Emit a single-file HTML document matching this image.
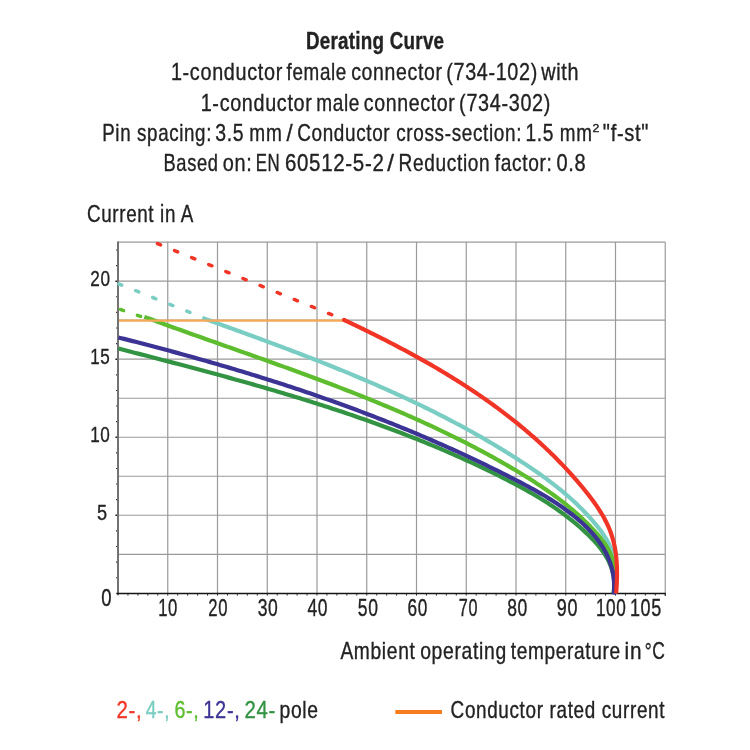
<!DOCTYPE html>
<html><head><meta charset="utf-8"><style>
html,body{margin:0;padding:0;background:#fff;}
svg{display:block;will-change:transform;filter:blur(0.3px)}
text{font-family:"Liberation Sans",sans-serif;stroke-width:0.35px;}
</style></head><body>
<svg width="750" height="750" viewBox="0 0 750 750">
<rect width="750" height="750" fill="#fff"/>
<path d="M167.75,242.19V593.30M217.50,242.19V593.30M267.25,242.19V593.30M317.00,242.19V593.30M366.75,242.19V593.30M416.50,242.19V593.30M466.25,242.19V593.30M516.00,242.19V593.30M565.75,242.19V593.30M615.50,242.19V593.30M665.25,242.19V593.30M118.00,554.29H665.25M118.00,515.27H665.25M118.00,476.26H665.25M118.00,437.25H665.25M118.00,398.24H665.25M118.00,359.22H665.25M118.00,320.21H665.25M118.00,281.20H665.25M118.00,242.19H665.25" stroke="#9a9a9a" stroke-width="1.2" fill="none"/>
<path d="M116.00,577.69H118.00M116.00,562.09H118.00M116.00,546.48H118.00M116.00,530.88H118.00M116.00,499.67H118.00M116.00,484.06H118.00M116.00,468.46H118.00M116.00,452.85H118.00M116.00,421.64H118.00M116.00,406.04H118.00M116.00,390.43H118.00M116.00,374.83H118.00M116.00,343.62H118.00M116.00,328.01H118.00M116.00,312.41H118.00M116.00,296.80H118.00M116.00,265.59H118.00M116.00,249.99H118.00" stroke="#333" stroke-width="1.1" fill="none"/>
<path d="M115.40,515.27H119.00M115.40,437.25H119.00M115.40,359.22H119.00M115.40,281.20H119.00" stroke="#222" stroke-width="1.4" fill="none"/>
<path d="M127.95,593.30V595.60M137.90,593.30V595.60M147.85,593.30V595.60M157.80,593.30V595.60M167.75,593.30V595.60M177.70,593.30V595.60M187.65,593.30V595.60M197.60,593.30V595.60M207.55,593.30V595.60M217.50,593.30V595.60M227.45,593.30V595.60M237.40,593.30V595.60M247.35,593.30V595.60M257.30,593.30V595.60M267.25,593.30V595.60M277.20,593.30V595.60M287.15,593.30V595.60M297.10,593.30V595.60M307.05,593.30V595.60M317.00,593.30V595.60M326.95,593.30V595.60M336.90,593.30V595.60M346.85,593.30V595.60M356.80,593.30V595.60M366.75,593.30V595.60M376.70,593.30V595.60M386.65,593.30V595.60M396.60,593.30V595.60M406.55,593.30V595.60M416.50,593.30V595.60M426.45,593.30V595.60M436.40,593.30V595.60M446.35,593.30V595.60M456.30,593.30V595.60M466.25,593.30V595.60M476.20,593.30V595.60M486.15,593.30V595.60M496.10,593.30V595.60M506.05,593.30V595.60M516.00,593.30V595.60M525.95,593.30V595.60M535.90,593.30V595.60M545.85,593.30V595.60M555.80,593.30V595.60M565.75,593.30V595.60M575.70,593.30V595.60M585.65,593.30V595.60M595.60,593.30V595.60M605.55,593.30V595.60M615.50,593.30V595.60M625.45,593.30V595.60M635.40,593.30V595.60M645.35,593.30V595.60M655.30,593.30V595.60M665.25,593.30V595.60" stroke="#333" stroke-width="1.0" fill="none"/>
<path d="M118.00,241.59V595.30" stroke="#727272" stroke-width="2.0" fill="none"/>
<path d="M116.30,593.50H665.85" stroke="#151515" stroke-width="1.3" fill="none"/>
<path d="M665.25,593.30V595.90" stroke="#333" stroke-width="1.1" fill="none"/>
<path d="M157.43,243.56L160.57,244.84M174.54,250.55L177.68,251.83M191.65,257.54L194.79,258.82M208.76,264.53L211.90,265.81M225.87,271.51L229.01,272.80M242.98,278.50L246.12,279.79M260.09,285.49L263.23,286.78M277.20,292.48L280.34,293.77M294.31,299.47L297.45,300.76M311.42,306.46L314.56,307.75M328.53,313.45L331.67,314.74" stroke="#f03526" stroke-width="3.5" stroke-linecap="round" fill="none"/>
<path d="M186.82,311.07L189.98,312.33M169.77,304.29L172.93,305.54M152.72,297.50L155.88,298.76M135.67,290.71L138.83,291.97M119.00,284.08L121.78,285.19" stroke="#7acdc2" stroke-width="3.5" stroke-linecap="round" fill="none"/>
<path d="M120.39,309.44L123.61,310.56M137.39,315.34L140.61,316.46" stroke="#5dbd2e" stroke-width="3.5" stroke-linecap="round" fill="none"/>
<path d="M202.23,317.87 L204.71,318.77 L207.19,319.66 L209.68,320.55 L212.16,321.45 L214.64,322.34 L217.12,323.23 L219.60,324.13 L222.08,325.02 L224.56,325.92 L227.04,326.82 L229.52,327.71 L232.00,328.61 L234.48,329.51 L236.95,330.41 L239.43,331.31 L241.91,332.21 L244.38,333.11 L246.85,334.01 L249.33,334.92 L251.80,335.82 L254.27,336.73 L256.74,337.63 L259.21,338.54 L261.68,339.45 L264.15,340.37 L266.62,341.28 L269.09,342.19 L271.55,343.11 L274.02,344.03 L276.48,344.95 L278.94,345.87 L281.40,346.79 L283.86,347.72 L286.32,348.65 L288.78,349.58 L291.24,350.51 L293.69,351.44 L296.15,352.38 L298.60,353.32 L301.05,354.26 L303.50,355.20 L305.95,356.15 L308.40,357.10 L310.85,358.05 L313.29,359.00 L315.74,359.96 L318.18,360.92 L320.62,361.88 L323.06,362.85 L325.49,363.81 L327.93,364.78 L330.36,365.76 L332.80,366.74 L335.23,367.72 L337.66,368.70 L340.09,369.69 L342.51,370.68 L344.94,371.68 L347.36,372.67 L349.78,373.68 L352.20,374.68 L354.62,375.69 L357.03,376.70 L359.44,377.72 L361.86,378.74 L364.27,379.76 L366.67,380.79 L369.08,381.83 L371.48,382.86 L373.88,383.90 L376.28,384.95 L378.68,386.00 L381.07,387.05 L383.47,388.11 L385.86,389.18 L388.25,390.24 L390.63,391.32 L393.02,392.39 L395.40,393.48 L397.78,394.56 L400.16,395.65 L402.53,396.75 L404.90,397.85 L407.27,398.96 L409.64,400.07 L412.01,401.19 L414.37,402.31 L416.73,403.44 L419.09,404.57 L421.44,405.71 L423.80,406.86 L426.15,408.01 L428.49,409.16 L430.84,410.32 L433.18,411.49 L435.52,412.66 L437.86,413.84 L440.19,415.02 L442.52,416.21 L444.85,417.41 L447.17,418.61 L449.50,419.82 L451.82,421.04 L454.13,422.26 L456.45,423.49 L458.76,424.72 L461.07,425.96 L463.37,427.21 L465.67,428.46 L467.97,429.72 L470.27,430.99 L472.56,432.27 L474.85,433.55 L477.14,434.84 L479.42,436.13 L481.70,437.43 L483.98,438.74 L486.25,440.06 L488.52,441.38 L490.79,442.71 L493.05,444.05 L495.31,445.40 L497.57,446.75 L499.82,448.11 L502.07,449.48 L504.32,450.85 L506.56,452.24 L508.80,453.63 L511.03,455.03 L513.27,456.44 L515.50,457.85 L517.72,459.27 L519.94,460.71 L522.16,462.15 L524.37,463.59 L526.57,465.05 L528.77,466.52 L530.97,468.00 L533.15,469.49 L535.33,470.99 L537.50,472.50 L539.66,474.03 L541.81,475.56 L543.95,477.11 L546.08,478.67 L548.20,480.24 L550.31,481.83 L552.41,483.43 L554.49,485.04 L556.56,486.67 L558.62,488.32 L560.66,489.98 L562.69,491.65 L564.71,493.34 L566.71,495.05 L568.69,496.77 L570.65,498.51 L572.60,500.27 L574.53,502.05 L576.44,503.84 L578.34,505.66 L580.21,507.49 L582.07,509.34 L583.90,511.21 L585.71,513.10 L587.50,515.01 L589.27,516.94 L591.02,518.89 L592.75,520.87 L594.45,522.86 L596.12,524.88 L597.77,526.92 L599.38,528.99 L600.96,531.08 L602.48,533.20 L603.94,535.36 L605.34,537.54 L606.67,539.76 L607.92,542.01 L609.08,544.31 L610.15,546.64 L611.12,549.01 L611.98,551.43 L612.72,553.89 L613.36,556.40 L613.91,558.93 L614.35,561.50 L614.71,564.10 L614.99,566.73 L615.19,569.37 L615.32,572.03 L615.39,574.70 L615.41,577.38 L615.37,580.07 L615.29,582.75 L615.17,585.44 L615.03,588.11 L614.86,590.77 L614.67,593.42" stroke="#7acdc2" stroke-width="4.2" fill="none" stroke-linejoin="round" stroke-linecap="butt"/>
<path d="M144.33,316.85 L147.01,317.85 L149.69,318.84 L152.37,319.83 L155.06,320.81 L157.74,321.80 L160.43,322.78 L163.12,323.76 L165.81,324.74 L168.50,325.71 L171.19,326.68 L173.89,327.66 L176.58,328.63 L179.28,329.60 L181.97,330.56 L184.67,331.53 L187.37,332.50 L190.07,333.46 L192.77,334.42 L195.47,335.38 L198.17,336.35 L200.88,337.31 L203.58,338.26 L206.28,339.22 L208.99,340.18 L211.69,341.14 L214.40,342.10 L217.11,343.05 L219.81,344.01 L222.52,344.96 L225.23,345.92 L227.93,346.88 L230.64,347.83 L233.35,348.79 L236.06,349.75 L238.76,350.70 L241.47,351.66 L244.18,352.62 L246.89,353.58 L249.60,354.53 L252.30,355.49 L255.01,356.45 L257.72,357.42 L260.43,358.38 L263.13,359.34 L265.84,360.31 L268.55,361.27 L271.25,362.24 L273.96,363.21 L276.66,364.18 L279.36,365.15 L282.07,366.12 L284.77,367.10 L287.47,368.08 L290.17,369.06 L292.87,370.04 L295.57,371.02 L298.27,372.01 L300.97,372.99 L303.67,373.98 L306.36,374.98 L309.06,375.97 L311.75,376.97 L314.44,377.97 L317.14,378.97 L319.83,379.98 L322.51,380.99 L325.20,382.00 L327.89,383.01 L330.57,384.03 L333.26,385.05 L335.94,386.08 L338.62,387.11 L341.30,388.14 L343.97,389.18 L346.65,390.21 L349.32,391.26 L351.99,392.30 L354.66,393.36 L357.33,394.41 L360.00,395.47 L362.66,396.53 L365.32,397.60 L367.98,398.67 L370.64,399.75 L373.29,400.83 L375.95,401.92 L378.60,403.01 L381.25,404.10 L383.90,405.20 L386.54,406.31 L389.18,407.42 L391.82,408.53 L394.46,409.65 L397.09,410.78 L399.72,411.91 L402.35,413.05 L404.98,414.19 L407.60,415.34 L410.23,416.49 L412.84,417.65 L415.46,418.81 L418.07,419.99 L420.68,421.16 L423.29,422.35 L425.89,423.54 L428.49,424.73 L431.09,425.94 L433.68,427.15 L436.27,428.36 L438.86,429.58 L441.45,430.81 L444.03,432.05 L446.61,433.29 L449.18,434.54 L451.75,435.80 L454.32,437.06 L456.88,438.33 L459.44,439.61 L462.00,440.90 L464.55,442.19 L467.10,443.49 L469.65,444.80 L472.19,446.12 L474.73,447.45 L477.26,448.78 L479.79,450.12 L482.31,451.47 L484.84,452.82 L487.35,454.19 L489.87,455.56 L492.38,456.95 L494.88,458.34 L497.38,459.73 L499.88,461.14 L502.37,462.56 L504.86,463.98 L507.34,465.42 L509.82,466.86 L512.29,468.32 L514.76,469.78 L517.23,471.25 L519.69,472.73 L522.14,474.22 L524.59,475.72 L527.03,477.24 L529.46,478.76 L531.89,480.30 L534.31,481.85 L536.71,483.41 L539.11,484.99 L541.50,486.58 L543.87,488.19 L546.23,489.81 L548.58,491.45 L550.92,493.10 L553.25,494.77 L555.56,496.46 L557.85,498.17 L560.13,499.90 L562.39,501.64 L564.64,503.41 L566.87,505.19 L569.08,507.00 L571.27,508.83 L573.44,510.68 L575.59,512.55 L577.73,514.44 L579.84,516.36 L581.93,518.30 L583.99,520.26 L586.04,522.26 L588.06,524.27 L590.06,526.31 L592.03,528.38 L593.97,530.48 L595.89,532.60 L597.78,534.75 L599.63,536.94 L601.42,539.16 L603.15,541.42 L604.79,543.73 L606.33,546.09 L607.77,548.50 L609.09,550.97 L610.27,553.50 L611.31,556.10 L612.19,558.77 L612.89,561.51 L613.41,564.32 L613.78,567.20 L614.01,570.12 L614.14,573.08 L614.20,576.05 L614.20,579.01 L614.18,581.96 L614.15,584.88 L614.16,587.74 L614.23,590.55 L614.37,593.27" stroke="#5dbd2e" stroke-width="4.2" fill="none" stroke-linejoin="round" stroke-linecap="butt"/>
<path d="M118.53,348.61 L121.33,349.33 L124.14,350.05 L126.94,350.77 L129.74,351.49 L132.54,352.21 L135.34,352.93 L138.15,353.65 L140.95,354.37 L143.75,355.09 L146.56,355.82 L149.36,356.54 L152.16,357.27 L154.97,357.99 L157.77,358.72 L160.57,359.45 L163.38,360.17 L166.18,360.90 L168.98,361.64 L171.79,362.37 L174.59,363.10 L177.39,363.84 L180.19,364.57 L182.99,365.31 L185.80,366.05 L188.60,366.79 L191.40,367.53 L194.20,368.28 L197.00,369.02 L199.80,369.77 L202.60,370.52 L205.40,371.27 L208.20,372.02 L211.00,372.78 L213.79,373.54 L216.59,374.29 L219.39,375.06 L222.18,375.82 L224.98,376.59 L227.77,377.35 L230.57,378.13 L233.36,378.90 L236.15,379.68 L238.94,380.45 L241.73,381.24 L244.52,382.02 L247.31,382.81 L250.10,383.60 L252.89,384.39 L255.68,385.18 L258.46,385.98 L261.25,386.78 L264.03,387.59 L266.81,388.39 L269.59,389.21 L272.37,390.02 L275.15,390.84 L277.93,391.66 L280.71,392.48 L283.48,393.31 L286.26,394.14 L289.03,394.98 L291.80,395.82 L294.57,396.66 L297.34,397.50 L300.11,398.35 L302.88,399.21 L305.64,400.07 L308.40,400.93 L311.17,401.79 L313.93,402.66 L316.69,403.54 L319.44,404.42 L322.20,405.30 L324.95,406.19 L327.71,407.08 L330.46,407.98 L333.21,408.88 L335.96,409.78 L338.70,410.69 L341.45,411.61 L344.19,412.53 L346.93,413.45 L349.67,414.38 L352.40,415.32 L355.14,416.25 L357.87,417.20 L360.60,418.15 L363.33,419.10 L366.06,420.06 L368.79,421.03 L371.51,422.00 L374.23,422.97 L376.95,423.96 L379.67,424.94 L382.38,425.94 L385.09,426.93 L387.81,427.94 L390.51,428.95 L393.22,429.96 L395.92,430.98 L398.62,432.01 L401.32,433.04 L404.02,434.08 L406.71,435.13 L409.41,436.18 L412.10,437.24 L414.78,438.30 L417.47,439.37 L420.15,440.45 L422.83,441.53 L425.51,442.62 L428.18,443.72 L430.85,444.82 L433.52,445.93 L436.19,447.04 L438.85,448.17 L441.51,449.30 L444.17,450.43 L446.82,451.58 L449.48,452.73 L452.13,453.88 L454.77,455.05 L457.42,456.22 L460.06,457.40 L462.70,458.59 L465.33,459.78 L467.96,460.98 L470.59,462.19 L473.22,463.40 L475.84,464.63 L478.46,465.86 L481.08,467.10 L483.69,468.35 L486.30,469.60 L488.91,470.86 L491.51,472.13 L494.11,473.41 L496.71,474.70 L499.31,475.99 L501.90,477.30 L504.48,478.61 L507.07,479.93 L509.64,481.26 L512.22,482.60 L514.78,483.95 L517.34,485.31 L519.89,486.69 L522.44,488.08 L524.98,489.48 L527.50,490.90 L530.02,492.33 L532.53,493.78 L535.03,495.25 L537.51,496.73 L539.99,498.23 L542.45,499.74 L544.90,501.28 L547.33,502.83 L549.75,504.41 L552.16,506.00 L554.55,507.62 L556.93,509.26 L559.29,510.92 L561.63,512.60 L563.96,514.31 L566.26,516.05 L568.55,517.80 L570.82,519.59 L573.07,521.40 L575.30,523.23 L577.51,525.10 L579.69,526.99 L581.86,528.91 L584.00,530.87 L586.12,532.85 L588.21,534.86 L590.28,536.91 L592.31,538.98 L594.31,541.10 L596.25,543.25 L598.13,545.44 L599.95,547.67 L601.70,549.95 L603.36,552.27 L604.94,554.64 L606.42,557.06 L607.79,559.53 L609.05,562.05 L610.19,564.63 L611.20,567.27 L612.08,569.96 L612.81,572.71 L613.40,575.51 L613.84,578.38 L614.11,581.30 L614.21,584.28 L614.14,587.32 L613.89,590.41 L613.45,593.57" stroke="#329342" stroke-width="4.2" fill="none" stroke-linejoin="round" stroke-linecap="butt"/>
<path d="M118.38,337.46 L121.24,338.19 L124.09,338.91 L126.95,339.64 L129.80,340.36 L132.65,341.10 L135.51,341.83 L138.36,342.57 L141.21,343.30 L144.06,344.05 L146.90,344.79 L149.75,345.54 L152.60,346.29 L155.44,347.04 L158.28,347.79 L161.13,348.55 L163.97,349.31 L166.81,350.07 L169.65,350.84 L172.49,351.61 L175.32,352.38 L178.16,353.15 L180.99,353.93 L183.83,354.71 L186.66,355.49 L189.49,356.28 L192.32,357.07 L195.15,357.86 L197.98,358.66 L200.80,359.45 L203.63,360.26 L206.45,361.06 L209.28,361.87 L212.10,362.68 L214.92,363.50 L217.74,364.31 L220.55,365.14 L223.37,365.96 L226.19,366.79 L229.00,367.62 L231.81,368.46 L234.62,369.29 L237.43,370.14 L240.24,370.98 L243.05,371.83 L245.85,372.68 L248.66,373.54 L251.46,374.40 L254.26,375.26 L257.06,376.13 L259.86,377.00 L262.66,377.88 L265.45,378.76 L268.25,379.64 L271.04,380.53 L273.83,381.42 L276.62,382.31 L279.41,383.21 L282.20,384.11 L284.98,385.02 L287.77,385.93 L290.55,386.84 L293.33,387.76 L296.11,388.69 L298.89,389.61 L301.67,390.54 L304.44,391.48 L307.21,392.42 L309.98,393.36 L312.75,394.31 L315.52,395.26 L318.29,396.22 L321.05,397.18 L323.82,398.15 L326.58,399.12 L329.34,400.09 L332.10,401.07 L334.86,402.05 L337.61,403.04 L340.36,404.03 L343.12,405.03 L345.87,406.03 L348.61,407.04 L351.36,408.05 L354.10,409.07 L356.85,410.09 L359.59,411.11 L362.33,412.14 L365.07,413.18 L367.80,414.22 L370.54,415.26 L373.27,416.31 L376.00,417.37 L378.73,418.43 L381.45,419.49 L384.18,420.56 L386.90,421.64 L389.62,422.72 L392.34,423.80 L395.06,424.89 L397.78,425.99 L400.49,427.09 L403.20,428.19 L405.91,429.30 L408.62,430.42 L411.33,431.54 L414.03,432.67 L416.73,433.80 L419.43,434.94 L422.13,436.08 L424.83,437.23 L427.52,438.39 L430.21,439.55 L432.90,440.71 L435.59,441.88 L438.28,443.06 L440.96,444.24 L443.64,445.43 L446.32,446.62 L449.00,447.82 L451.67,449.03 L454.35,450.24 L457.02,451.46 L459.69,452.68 L462.36,453.91 L465.02,455.14 L467.68,456.38 L470.34,457.63 L473.00,458.88 L475.66,460.14 L478.31,461.40 L480.96,462.67 L483.61,463.95 L486.26,465.23 L488.91,466.52 L491.55,467.82 L494.19,469.12 L496.83,470.42 L499.47,471.74 L502.10,473.06 L504.73,474.38 L507.36,475.72 L509.99,477.06 L512.61,478.40 L515.24,479.75 L517.86,481.11 L520.47,482.48 L523.09,483.85 L525.69,485.24 L528.29,486.63 L530.89,488.04 L533.47,489.46 L536.04,490.90 L538.61,492.35 L541.16,493.82 L543.69,495.31 L546.22,496.81 L548.73,498.34 L551.22,499.89 L553.69,501.46 L556.15,503.06 L558.58,504.68 L561.00,506.33 L563.39,508.00 L565.76,509.71 L568.10,511.44 L570.42,513.21 L572.72,515.01 L574.98,516.84 L577.22,518.70 L579.43,520.61 L581.61,522.55 L583.75,524.52 L585.86,526.54 L587.94,528.60 L589.96,530.70 L591.95,532.85 L593.87,535.04 L595.74,537.27 L597.54,539.56 L599.27,541.89 L600.92,544.27 L602.50,546.71 L603.99,549.20 L605.39,551.74 L606.69,554.33 L607.91,556.96 L609.02,559.64 L610.04,562.36 L610.95,565.12 L611.76,567.92 L612.45,570.76 L613.04,573.63 L613.51,576.54 L613.87,579.47 L614.10,582.43 L614.21,585.42 L614.20,588.44 L614.06,591.48 L613.78,594.54" stroke="#3c3494" stroke-width="4.2" fill="none" stroke-linejoin="round" stroke-linecap="butt"/>
<path d="M119,320.7H344" stroke="#f6a857" stroke-width="2.3" fill="none"/>
<path d="M344.02,319.92 L345.86,320.79 L347.71,321.67 L349.56,322.54 L351.40,323.42 L353.25,324.31 L355.09,325.19 L356.94,326.08 L358.78,326.97 L360.63,327.87 L362.47,328.76 L364.31,329.66 L366.15,330.56 L368.00,331.47 L369.83,332.37 L371.67,333.28 L373.51,334.20 L375.35,335.11 L377.19,336.03 L379.02,336.95 L380.85,337.88 L382.69,338.81 L384.52,339.74 L386.35,340.67 L388.18,341.61 L390.00,342.55 L391.83,343.50 L393.65,344.45 L395.48,345.40 L397.30,346.35 L399.12,347.31 L400.94,348.27 L402.75,349.24 L404.57,350.20 L406.38,351.18 L408.19,352.15 L410.00,353.13 L411.81,354.12 L413.61,355.10 L415.42,356.09 L417.22,357.09 L419.02,358.09 L420.81,359.09 L422.61,360.10 L424.40,361.11 L426.19,362.12 L427.98,363.14 L429.76,364.16 L431.54,365.19 L433.32,366.22 L435.10,367.26 L436.88,368.30 L438.65,369.34 L440.42,370.39 L442.18,371.44 L443.95,372.50 L445.71,373.56 L447.47,374.62 L449.22,375.69 L450.97,376.77 L452.72,377.85 L454.47,378.93 L456.21,380.02 L457.95,381.12 L459.69,382.21 L461.42,383.32 L463.15,384.43 L464.87,385.54 L466.60,386.66 L468.31,387.78 L470.03,388.91 L471.74,390.04 L473.45,391.18 L475.15,392.32 L476.86,393.47 L478.55,394.62 L480.25,395.78 L481.93,396.94 L483.62,398.11 L485.30,399.29 L486.98,400.47 L488.65,401.65 L490.32,402.84 L491.99,404.04 L493.65,405.24 L495.30,406.45 L496.95,407.66 L498.60,408.88 L500.25,410.10 L501.88,411.33 L503.52,412.57 L505.15,413.81 L506.77,415.05 L508.39,416.31 L510.01,417.57 L511.62,418.83 L513.23,420.10 L514.83,421.38 L516.42,422.66 L518.01,423.95 L519.60,425.25 L521.18,426.55 L522.76,427.85 L524.33,429.17 L525.90,430.49 L527.46,431.81 L529.01,433.15 L530.56,434.49 L532.11,435.83 L533.64,437.18 L535.18,438.54 L536.71,439.91 L538.23,441.28 L539.75,442.66 L541.26,444.04 L542.76,445.43 L544.26,446.83 L545.76,448.24 L547.24,449.65 L548.73,451.07 L550.20,452.49 L551.67,453.92 L553.14,455.36 L554.59,456.81 L556.05,458.26 L557.49,459.73 L558.93,461.19 L560.36,462.67 L561.79,464.15 L563.21,465.64 L564.62,467.14 L566.03,468.64 L567.43,470.15 L568.83,471.67 L570.21,473.20 L571.59,474.73 L572.97,476.27 L574.34,477.82 L575.70,479.38 L577.05,480.94 L578.40,482.51 L579.74,484.09 L581.07,485.68 L582.39,487.27 L583.71,488.88 L585.02,490.49 L586.32,492.10 L587.62,493.73 L588.90,495.37 L590.16,497.01 L591.42,498.67 L592.65,500.33 L593.87,502.01 L595.07,503.69 L596.26,505.39 L597.42,507.09 L598.55,508.81 L599.67,510.54 L600.76,512.28 L601.82,514.03 L602.85,515.80 L603.85,517.58 L604.83,519.37 L605.77,521.17 L606.67,522.99 L607.55,524.83 L608.38,526.67 L609.18,528.53 L609.94,530.41 L610.66,532.30 L611.33,534.21 L611.96,536.13 L612.55,538.07 L613.10,540.03 L613.60,541.99 L614.07,543.97 L614.50,545.97 L614.88,547.97 L615.24,549.99 L615.55,552.01 L615.83,554.05 L616.08,556.09 L616.30,558.14 L616.48,560.20 L616.64,562.26 L616.76,564.33 L616.86,566.41 L616.93,568.48 L616.98,570.56 L617.00,572.65 L617.00,574.73 L616.97,576.81 L616.92,578.90 L616.86,580.98 L616.77,583.06 L616.67,585.14 L616.55,587.21 L616.41,589.28 L616.26,591.35 L616.10,593.41" stroke="#f03526" stroke-width="4.2" fill="none" stroke-linejoin="round" stroke-linecap="butt"/>
<circle cx="344.02" cy="319.92" r="2.10" fill="#f03526"/>
<text x="305.98" y="49.30" font-size="23.20" font-weight="bold" stroke-width="0.1" letter-spacing="0.30" fill="#222222" stroke="#222222" textLength="138.33" lengthAdjust="spacingAndGlyphs">Derating Curve</text>
<text x="170.91" y="79.50" font-size="23.20" letter-spacing="0.80" fill="#222222" stroke="#222222" textLength="112.00" lengthAdjust="spacingAndGlyphs">1-conductor</text>
<text x="286.60" y="79.50" font-size="23.20" letter-spacing="0.80" fill="#222222" stroke="#222222" textLength="60.37" lengthAdjust="spacingAndGlyphs">female</text>
<text x="351.16" y="79.50" font-size="23.20" letter-spacing="0.80" fill="#222222" stroke="#222222" textLength="91.45" lengthAdjust="spacingAndGlyphs">connector</text>
<text x="446.22" y="79.50" font-size="23.20" letter-spacing="0.80" fill="#222222" stroke="#222222" textLength="91.73" lengthAdjust="spacingAndGlyphs">(734-102)</text>
<text x="541.30" y="79.50" font-size="23.20" letter-spacing="0.80" fill="#222222" stroke="#222222" textLength="37.88" lengthAdjust="spacingAndGlyphs">with</text>
<text x="200.71" y="110.60" font-size="23.20" letter-spacing="0.80" fill="#222222" stroke="#222222" textLength="111.79" lengthAdjust="spacingAndGlyphs">1-conductor</text>
<text x="316.17" y="110.60" font-size="23.20" letter-spacing="0.80" fill="#222222" stroke="#222222" textLength="43.85" lengthAdjust="spacingAndGlyphs">male</text>
<text x="363.76" y="110.60" font-size="23.20" letter-spacing="0.80" fill="#222222" stroke="#222222" textLength="91.75" lengthAdjust="spacingAndGlyphs">connector</text>
<text x="459.12" y="110.60" font-size="23.20" letter-spacing="0.80" fill="#222222" stroke="#222222" textLength="91.93" lengthAdjust="spacingAndGlyphs">(734-302)</text>
<text x="102.18" y="140.80" font-size="23.20" letter-spacing="0.80" fill="#222222" stroke="#222222" textLength="109.83" lengthAdjust="spacingAndGlyphs">Pin spacing:</text>
<text x="215.16" y="140.80" font-size="23.20" letter-spacing="0.80" fill="#222222" stroke="#222222" textLength="29.02" lengthAdjust="spacingAndGlyphs">3.5</text>
<text x="249.37" y="140.80" font-size="23.20" letter-spacing="0.80" fill="#222222" stroke="#222222" textLength="33.09" lengthAdjust="spacingAndGlyphs">mm</text>
<text x="286.60" y="140.80" font-size="23.20" letter-spacing="0.80" fill="#222222" stroke="#222222" textLength="6.91" lengthAdjust="spacingAndGlyphs">/</text>
<text x="297.18" y="140.80" font-size="23.20" letter-spacing="0.80" fill="#222222" stroke="#222222" textLength="224.89" lengthAdjust="spacingAndGlyphs">Conductor cross-section:</text>
<text x="525.56" y="140.80" font-size="23.20" letter-spacing="0.80" fill="#222222" stroke="#222222" textLength="28.61" lengthAdjust="spacingAndGlyphs">1.5</text>
<text x="559.78" y="140.80" font-size="23.20" letter-spacing="0.80" fill="#222222" stroke="#222222" textLength="32.75" lengthAdjust="spacingAndGlyphs">mm</text>
<text x="592.60" y="132.40" font-size="10.20" letter-spacing="0.80" fill="#222222" stroke="#222222" textLength="7.77" lengthAdjust="spacingAndGlyphs">2</text>
<text x="602.83" y="140.80" font-size="23.20" letter-spacing="0.80" fill="#222222" stroke="#222222" textLength="46.37" lengthAdjust="spacingAndGlyphs">&quot;f-st&quot;</text>
<text x="163.52" y="171.40" font-size="23.20" letter-spacing="0.80" fill="#222222" stroke="#222222" textLength="55.08" lengthAdjust="spacingAndGlyphs">Based</text>
<text x="222.74" y="171.40" font-size="23.20" letter-spacing="0.80" fill="#222222" stroke="#222222" textLength="29.75" lengthAdjust="spacingAndGlyphs">on:</text>
<text x="255.75" y="171.40" font-size="23.20" letter-spacing="0.80" fill="#222222" stroke="#222222" textLength="24.52" lengthAdjust="spacingAndGlyphs">EN</text>
<text x="284.90" y="171.40" font-size="23.20" letter-spacing="0.80" fill="#222222" stroke="#222222" textLength="99.64" lengthAdjust="spacingAndGlyphs">60512-5-2</text>
<text x="387.20" y="171.40" font-size="23.20" letter-spacing="0.80" fill="#222222" stroke="#222222" textLength="7.58" lengthAdjust="spacingAndGlyphs">/</text>
<text x="398.56" y="171.40" font-size="23.20" letter-spacing="0.80" fill="#222222" stroke="#222222" textLength="91.83" lengthAdjust="spacingAndGlyphs">Reduction</text>
<text x="494.79" y="171.40" font-size="23.20" letter-spacing="0.80" fill="#222222" stroke="#222222" textLength="57.73" lengthAdjust="spacingAndGlyphs">factor:</text>
<text x="556.54" y="171.40" font-size="23.20" letter-spacing="0.80" fill="#222222" stroke="#222222" textLength="29.90" lengthAdjust="spacingAndGlyphs">0.8</text>
<text x="87.00" y="221.60" font-size="23.50" letter-spacing="0.80" fill="#222222" stroke="#222222" textLength="107.05" lengthAdjust="spacingAndGlyphs">Current in A</text>
<text x="90.23" y="286.30" font-size="22.40" letter-spacing="0.80" fill="#222222" stroke="#222222" textLength="20.32" lengthAdjust="spacingAndGlyphs">20</text>
<text x="90.17" y="364.30" font-size="22.40" letter-spacing="0.80" fill="#222222" stroke="#222222" textLength="20.17" lengthAdjust="spacingAndGlyphs">15</text>
<text x="90.16" y="442.30" font-size="22.40" letter-spacing="0.80" fill="#222222" stroke="#222222" textLength="20.29" lengthAdjust="spacingAndGlyphs">10</text>
<text x="97.09" y="520.20" font-size="22.40" letter-spacing="0.80" fill="#222222" stroke="#222222" textLength="10.73" lengthAdjust="spacingAndGlyphs">5</text>
<text x="101.30" y="605.50" font-size="23.20" letter-spacing="0.80" fill="#222222" stroke="#222222" textLength="10.96" lengthAdjust="spacingAndGlyphs">0</text>
<text x="158.14" y="615.60" font-size="23.20" letter-spacing="0.80" fill="#222222" stroke="#222222" textLength="19.76" lengthAdjust="spacingAndGlyphs">10</text>
<text x="208.30" y="615.60" font-size="23.20" letter-spacing="0.80" fill="#222222" stroke="#222222" textLength="19.69" lengthAdjust="spacingAndGlyphs">20</text>
<text x="257.64" y="615.60" font-size="23.20" letter-spacing="0.80" fill="#222222" stroke="#222222" textLength="20.71" lengthAdjust="spacingAndGlyphs">30</text>
<text x="307.52" y="615.60" font-size="23.20" letter-spacing="0.80" fill="#222222" stroke="#222222" textLength="20.62" lengthAdjust="spacingAndGlyphs">40</text>
<text x="357.84" y="615.60" font-size="23.20" letter-spacing="0.80" fill="#222222" stroke="#222222" textLength="20.71" lengthAdjust="spacingAndGlyphs">50</text>
<text x="407.57" y="615.60" font-size="23.20" letter-spacing="0.80" fill="#222222" stroke="#222222" textLength="20.36" lengthAdjust="spacingAndGlyphs">60</text>
<text x="458.83" y="615.60" font-size="23.20" letter-spacing="0.80" fill="#222222" stroke="#222222" textLength="19.13" lengthAdjust="spacingAndGlyphs">70</text>
<text x="507.24" y="615.60" font-size="23.20" letter-spacing="0.80" fill="#222222" stroke="#222222" textLength="20.71" lengthAdjust="spacingAndGlyphs">80</text>
<text x="556.82" y="615.60" font-size="23.20" letter-spacing="0.80" fill="#222222" stroke="#222222" textLength="21.26" lengthAdjust="spacingAndGlyphs">90</text>
<text x="595.90" y="615.60" font-size="23.20" letter-spacing="0.80" fill="#222222" stroke="#222222" textLength="30.49" lengthAdjust="spacingAndGlyphs">100</text>
<text x="629.94" y="615.60" font-size="23.20" letter-spacing="0.80" fill="#222222" stroke="#222222" textLength="31.90" lengthAdjust="spacingAndGlyphs">105</text>
<text x="340.40" y="658.70" font-size="23.20" letter-spacing="0.80" fill="#222222" stroke="#222222" textLength="75.09" lengthAdjust="spacingAndGlyphs">Ambient</text>
<text x="420.17" y="658.70" font-size="23.20" letter-spacing="0.80" fill="#222222" stroke="#222222" textLength="86.66" lengthAdjust="spacingAndGlyphs">operating</text>
<text x="510.79" y="658.70" font-size="23.20" letter-spacing="0.80" fill="#222222" stroke="#222222" textLength="110.05" lengthAdjust="spacingAndGlyphs">temperature</text>
<text x="624.56" y="658.70" font-size="23.20" letter-spacing="0.80" fill="#222222" stroke="#222222" textLength="17.60" lengthAdjust="spacingAndGlyphs">in</text>
<text x="644.76" y="658.70" font-size="23.20" letter-spacing="0.80" fill="#222222" stroke="#222222" textLength="20.77" lengthAdjust="spacingAndGlyphs">°C</text>
<text x="116.50" y="717.60" font-size="23.20" letter-spacing="0.80" fill="#f03526" stroke="#f03526" textLength="25.89" lengthAdjust="spacingAndGlyphs">2-,</text>
<text x="145.68" y="717.60" font-size="23.20" letter-spacing="0.80" fill="#7acdc2" stroke="#7acdc2" textLength="24.59" lengthAdjust="spacingAndGlyphs">4-,</text>
<text x="174.44" y="717.60" font-size="23.20" letter-spacing="0.80" fill="#5dbd2e" stroke="#5dbd2e" textLength="25.08" lengthAdjust="spacingAndGlyphs">6-,</text>
<text x="203.29" y="717.60" font-size="23.20" letter-spacing="0.80" fill="#3c3494" stroke="#3c3494" textLength="37.23" lengthAdjust="spacingAndGlyphs">12-,</text>
<text x="244.50" y="717.60" font-size="23.20" letter-spacing="0.80" fill="#329342" stroke="#329342" textLength="31.60" lengthAdjust="spacingAndGlyphs">24-</text>
<text x="279.55" y="717.60" font-size="23.20" letter-spacing="0.80" fill="#222222" stroke="#222222" textLength="39.16" lengthAdjust="spacingAndGlyphs">pole</text>
<text x="450.58" y="717.60" font-size="23.20" letter-spacing="0.80" fill="#222222" stroke="#222222" textLength="214.56" lengthAdjust="spacingAndGlyphs">Conductor rated current</text>
<path d="M395.3,712H442" stroke="#f67e20" stroke-width="4" fill="none"/>
</svg></body></html>
